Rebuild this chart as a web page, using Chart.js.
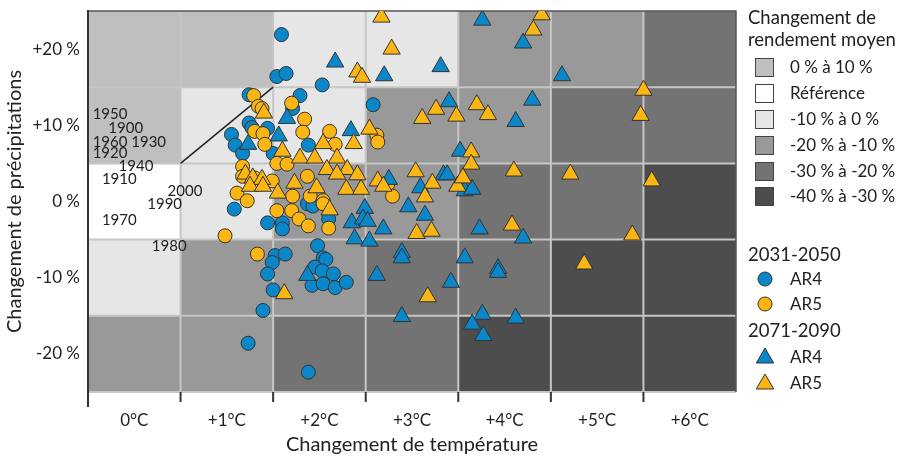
<!DOCTYPE html>
<html lang="fr">
<head>
<meta charset="UTF-8" />
<title>Changement de rendement moyen</title>
<script src="https://cdn.jsdelivr.net/npm/chart.js"></script>
<style>
  body { margin: 0; background: #fff; font-family: Lato, "Open Sans", sans-serif; color: #222; }
  #wrap { position: relative; width: 902px; height: 461px; }
  .lg { position: absolute; font-size: 17px; line-height: 20px; white-space: nowrap; }
  .lg.big { font-size: 18.5px; line-height: 22px; }
  .box { position: absolute; width: 17px; height: 17px; border: 1px solid #444; }
  .mk { position: absolute; }
</style>
</head>
<body>
<div id="wrap">
  <canvas id="chart" width="902" height="461"></canvas>
  <div id="legend"></div>
</div>
<script>
// axes
const xTickVals = [0, 1, 2, 3, 4, 5, 6];
const xTickLabels = ["0°C", "+1°C", "+2°C", "+3°C", "+4°C", "+5°C", "+6°C"];
const yTickVals = [-20, -10, 0, 10, 20];
const yTickLabels = ["-20 %", "-10 %", "0 %", "+10 %", "+20 %"];

// background cells: temperature edges, precipitation edges (top to bottom)
const tempEdges = [-0.5, 0.5, 1.5, 2.5, 3.5, 4.5, 5.5, 6.5];
const precipEdges = [25, 15, 5, -5, -15, -25];
// yield class per cell, rows top to bottom
const classes = ["0 % à 10 %", "Référence", "-10 % à 0 %", "-20 % à -10 %", "-30 % à -20 %", "-40 % à -30 %"];
const classColors = ["#bfbfbf", "#ffffff", "#e6e6e6", "#999999", "#737373", "#4d4d4d"];
const cellClass = [
  [0, 0, 2, 2, 3, 3, 4],
  [0, 2, 2, 3, 3, 4, 4],
  [1, 2, 3, 3, 4, 4, 5],
  [2, 3, 3, 4, 4, 5, 5],
  [3, 3, 4, 4, 5, 5, 5]
];

// observed years (temperature, precipitation)
const yearLabels = [
  ["1950", -0.45, 11.4], ["1900", -0.28, 9.6], ["1960 1930", -0.45, 7.8],
  ["1920", -0.45, 6.3], ["1940", -0.17, 4.6], ["1910", -0.35, 2.9],
  ["2000", 0.36, 1.4], ["1990", 0.14, -0.3], ["1970", -0.35, -2.5], ["1980", 0.19, -5.8]
];
const refLine = [[0.5, 5], [1.5, 15]];

// 2031-2050
const ar4Near = [
  [1.59,21.9],[1.54,16.4],[1.64,16.8],[2.03,15.3],[1.24,14.0],[1.79,13.9],[1.71,12.2],[2.58,12.7],
  [1.24,10.3],[1.05,8.8],[1.44,9.6],[1.27,9.7],[1.09,7.4],[1.88,7.4],[1.17,6.3],[1.50,6.3],
  [1.08,-1.0],[1.87,-0.3],[1.93,-0.6],[1.44,-2.8],[1.60,-2.8],[1.60,-3.6],[2.10,-2.3],[1.98,-5.8],
  [1.52,-7.1],[1.63,-6.9],[1.49,-8.0],[1.44,-9.5],[1.50,-11.6],[1.39,-14.3],[1.23,-18.6],[1.88,-22.4],
  [2.04,-7.4],[2.07,-7.6],[1.95,-8.6],[2.03,-9.1],[2.15,-9.5],[1.92,-11.0],[2.04,-10.8],[2.17,-11.3],[2.29,-10.6]
];
const ar5Near = [
  [1.29,13.9],[1.34,12.5],[1.38,12.2],[1.70,12.9],[1.84,10.8],[1.30,9.2],[1.39,8.9],[1.82,9.1],
  [2.11,9.2],[1.41,7.5],[2.17,7.5],[2.62,8.7],[2.63,7.8],[1.17,4.6],[1.54,5.0],[1.65,4.9],
  [1.87,3.3],[1.49,2.7],[1.11,1.1],[1.22,0.1],[1.71,0.7],[1.90,0.7],[2.04,0.1],[1.54,-1.2],
  [1.70,-1.2],[1.78,-2.3],[1.88,-3.2],[2.04,-0.3],[2.10,-3.5],[0.98,-4.5],[1.33,-6.9],[2.74,2.3],
  [2.79,0.7],[1.17,3.3],[1.30,3.1]
];
// 2071-2090
const ar4Far = [
  [2.17,18.3],[1.65,10.9],[1.56,8.6],[1.23,7.5],[2.34,9.3],[2.70,16.5],[3.31,17.7],[3.76,23.8],
  [4.20,20.8],[4.62,16.5],[3.40,13.1],[4.30,13.3],[4.12,10.5],[3.52,6.6],[3.34,3.5],[3.38,3.5],
  [2.75,2.9],[3.09,1.8],[3.57,1.4],[3.65,1.6],[2.49,-0.9],[2.35,-2.8],[2.47,-2.3],[2.52,-2.6],
  [2.38,-4.9],[2.54,-5.2],[2.69,-3.6],[2.96,-0.7],[3.14,-1.8],[3.73,-3.6],[4.20,-4.8],[2.89,-6.7],
  [2.89,-7.4],[3.57,-7.4],[3.93,-8.8],[3.93,-9.3],[2.62,-9.7],[3.42,-10.6],[2.89,-15.1],[3.76,-14.8],
  [3.65,-16.1],[3.77,-17.6],[4.12,-15.3],[1.87,-9.7]
];
const ar5Far = [
  [2.67,24.2],[2.78,20.0],[2.41,17.0],[2.46,16.3],[4.40,24.5],[4.31,22.5],[5.50,14.6],[5.47,11.3],
  [3.11,10.9],[3.26,12.1],[3.48,11.2],[3.70,12.7],[3.82,11.4],[2.54,9.5],[2.37,7.6],[1.40,11.6],
  [3.64,6.5],[3.64,4.9],[4.10,4.0],[4.71,3.6],[5.59,2.7],[1.60,6.6],[1.79,5.7],[1.95,5.7],
  [2.04,7.6],[2.19,5.7],[2.08,4.2],[2.30,4.2],[2.41,3.5],[2.19,3.6],[2.29,1.6],[2.45,1.6],
  [1.20,3.6],[1.28,3.1],[1.38,2.9],[1.25,2.0],[1.39,2.0],[1.73,2.4],[1.55,1.1],[1.97,1.8],
  [2.11,-1.1],[2.63,2.7],[2.69,2.0],[3.04,3.9],[3.22,2.4],[3.14,0.6],[3.49,2.0],[3.55,3.1],
  [3.05,-4.2],[3.21,-3.9],[4.08,-3.1],[5.38,-4.4],[4.86,-8.2],[3.17,-12.5],[1.62,-12.1]
];

const BLUE = "#0a87c9";
const GOLD = "#fcb613";
const FONT = "Lato";

const toPts = arr => arr.map(p => ({ x: p[0], y: p[1] }));

const backdrop = {
  id: "backdrop",
  beforeDatasetsDraw(chart) {
    const { ctx, scales: { x, y } } = chart;
    ctx.save();
    for (let r = 0; r < cellClass.length; r++) {
      for (let c = 0; c < cellClass[r].length; c++) {
        const x0 = x.getPixelForValue(tempEdges[c]), x1 = x.getPixelForValue(tempEdges[c + 1]);
        const y0 = y.getPixelForValue(precipEdges[r]), y1 = y.getPixelForValue(precipEdges[r + 1]);
        ctx.fillStyle = classColors[cellClass[r][c]];
        ctx.fillRect(x0, y0, x1 - x0, y1 - y0);
      }
    }
    // light cell separators
    ctx.strokeStyle = "#c6c6c6";
    ctx.lineWidth = 2;
    const top = y.getPixelForValue(25), bot = y.getPixelForValue(-25);
    const left = x.getPixelForValue(-0.5), right = x.getPixelForValue(6.5);
    tempEdges.slice(1, -1).forEach(v => {
      const px = x.getPixelForValue(v);
      ctx.beginPath(); ctx.moveTo(px, top); ctx.lineTo(px, bot); ctx.stroke();
    });
    precipEdges.slice(1).forEach(v => {
      const py = y.getPixelForValue(v);
      ctx.beginPath(); ctx.moveTo(left, py); ctx.lineTo(right, py); ctx.stroke();
    });
    // frame
    ctx.strokeStyle = "#555";
    ctx.lineWidth = 1.5;
    ctx.beginPath(); ctx.moveTo(left, top); ctx.lineTo(right, top); ctx.lineTo(right, bot); ctx.stroke();
    ctx.strokeStyle = "#333";
    ctx.lineWidth = 2;
    ctx.beginPath(); ctx.moveTo(left, top - 1); ctx.lineTo(left, bot + 15); ctx.stroke();
    tempEdges.slice(1, -1).forEach(v => {
      const px = x.getPixelForValue(v);
      ctx.beginPath(); ctx.moveTo(px, bot); ctx.lineTo(px, bot + 10); ctx.stroke();
    });
    // reference line and years
    ctx.strokeStyle = "#222";
    ctx.lineWidth = 1.5;
    ctx.beginPath();
    ctx.moveTo(x.getPixelForValue(refLine[0][0]), y.getPixelForValue(refLine[0][1]));
    ctx.lineTo(x.getPixelForValue(refLine[1][0]), y.getPixelForValue(refLine[1][1]));
    ctx.stroke();
    ctx.fillStyle = "#222";
    ctx.font = "15px " + FONT;
    ctx.textBaseline = "middle";
    ctx.textAlign = "left";
    yearLabels.forEach(([t, tx, ty]) => ctx.fillText(t, x.getPixelForValue(tx), y.getPixelForValue(ty)));
    ctx.restore();
  }
};

const mk = (label, data, color, style, r, order) => ({
  label, data: toPts(data), backgroundColor: color, borderColor: "#333", borderWidth: 1,
  pointStyle: style, pointRadius: r, pointHoverRadius: r, order
});

new Chart(document.getElementById("chart").getContext("2d"), {
  type: "scatter",
  data: {
    datasets: [
      mk("2031-2050 AR4", ar4Near, BLUE, "circle", 7, 3),
      mk("2031-2050 AR5", ar5Near, GOLD, "circle", 7, 2),
      mk("2071-2090 AR4", ar4Far, BLUE, "triangle", 10, 1),
      mk("2071-2090 AR5", ar5Far, GOLD, "triangle", 10, 0)
    ]
  },
  options: {
    responsive: false,
    animation: false,
    layout: { padding: { left: 0, right: 166, top: 9, bottom: 0 } },
    plugins: { legend: { display: false }, tooltip: { enabled: false } },
    scales: {
      x: {
        type: "linear", min: -0.5, max: 6.5,
        afterBuildTicks: s => { s.ticks = xTickVals.map(v => ({ value: v })); },
        afterFit: s => { s.height = 69; s.paddingLeft = 0; s.paddingRight = 0; },
        grid: { display: false, drawTicks: false },
        border: { display: false },
        ticks: { callback: (v, i) => xTickLabels[i], color: "#222", font: { family: FONT, size: 17 }, padding: 18, maxRotation: 0 },
        title: { display: true, text: "Changement de température", color: "#222", font: { family: FONT, size: 20 }, padding: { top: 4, bottom: 4 } }
      },
      y: {
        type: "linear", min: -25, max: 25,
        afterBuildTicks: s => { s.ticks = yTickVals.map(v => ({ value: v })); },
        afterFit: s => { s.width = 88; s.paddingTop = 0; s.paddingBottom = 0; },
        grid: { display: false, drawTicks: false },
        border: { display: false },
        ticks: { callback: (v, i) => yTickLabels[i], color: "#222", font: { family: FONT, size: 17 }, padding: 8 },
        title: { display: true, text: "Changement de précipitations", color: "#222", font: { family: FONT, size: 20 }, padding: { top: 3, bottom: 3 } }
      }
    }
  },
  plugins: [backdrop]
});

// legend
const legend = document.getElementById("legend");
function addText(t, left, cy, big) {
  const d = document.createElement("div");
  d.className = big ? "lg big" : "lg"; d.textContent = t;
  d.style.left = left + "px"; d.style.top = (cy - (big ? 11 : 10)) + "px";
  legend.appendChild(d);
}
addText("Changement de", 748, 17, true);
addText("rendement moyen", 748, 39, true);
const rowY = [67, 93, 119, 145, 171, 196];
classes.forEach((c, i) => {
  const b = document.createElement("div");
  b.className = "box";
  b.style.left = "755px"; b.style.top = (rowY[i] - 9) + "px";
  b.style.background = classColors[i];
  legend.appendChild(b);
  addText(c, 790, rowY[i]);
});
function addMarker(shape, color, cy) {
  const ns = "http://www.w3.org/2000/svg";
  const svg = document.createElementNS(ns, "svg");
  svg.setAttribute("width", "22"); svg.setAttribute("height", "22");
  svg.setAttribute("class", "mk");
  svg.style.left = "754px"; svg.style.top = (cy - 11) + "px";
  let el;
  if (shape === "circle") {
    el = document.createElementNS(ns, "circle");
    el.setAttribute("cx", "11"); el.setAttribute("cy", "11"); el.setAttribute("r", "7");
  } else {
    el = document.createElementNS(ns, "polygon");
    el.setAttribute("points", "11,2 19.7,17 2.3,17");
  }
  el.setAttribute("fill", color); el.setAttribute("stroke", "#333"); el.setAttribute("stroke-width", "1");
  svg.appendChild(el);
  legend.appendChild(svg);
}
addText("2031-2050", 748, 254, true);
addMarker("circle", BLUE, 279); addText("AR4", 790, 279);
addMarker("circle", GOLD, 304); addText("AR5", 790, 304);
addText("2071-2090", 748, 330, true);
addMarker("triangle", BLUE, 357); addText("AR4", 790, 357);
addMarker("triangle", GOLD, 383); addText("AR5", 790, 383);
</script>
</body>
</html>
